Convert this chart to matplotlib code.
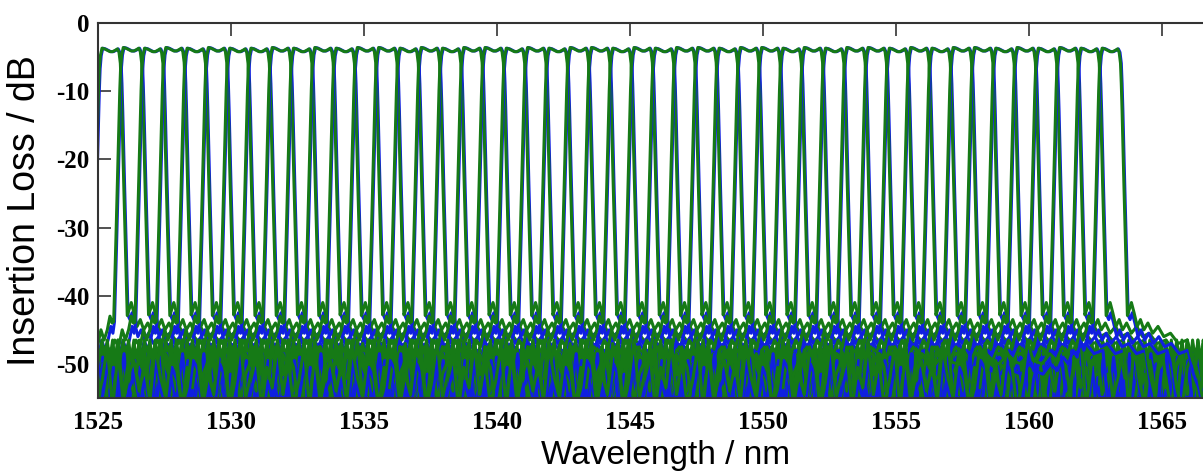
import numpy as np
import matplotlib.pyplot as plt

plt.rcParams['axes.unicode_minus'] = False

# channel centre wavelengths (nm)
centers = [1525.45, 1526.25, 1527.05, 1527.85, 1528.65, 1529.45, 1530.25, 1531.05,
           1531.85, 1532.65, 1533.45, 1534.25, 1535.05, 1535.85, 1536.65, 1537.45,
           1538.25, 1539.05, 1539.85, 1540.65, 1541.45, 1542.25, 1543.05, 1543.85,
           1544.65, 1545.45, 1546.25, 1547.05, 1547.85, 1548.65, 1549.45, 1550.25,
           1551.05, 1551.85, 1552.65, 1553.45, 1554.25, 1555.05, 1555.85, 1556.65,
           1557.45, 1558.25, 1559.05, 1559.85, 1560.65, 1561.45, 1562.25, 1563.05]
# peak insertion loss per channel (dB)
peak_loss = [-3.9, -3.8, -3.9, -3.8, -3.9, -3.8, -3.9, -3.9, -3.8, -3.9, -3.8, -3.9,
             -3.8, -3.8, -3.9, -3.8, -3.9, -3.8, -3.8, -3.9, -3.8, -3.9, -3.8, -3.8,
             -3.9, -3.8, -3.9, -3.8, -3.8, -3.9, -3.8, -3.8, -3.9, -3.8, -3.9, -3.8,
             -3.8, -3.9, -3.8, -3.9, -3.8, -3.8, -3.9, -3.8, -3.9, -3.8, -3.9, -3.9]

# passband shape: offset from centre (nm) and loss relative to the peak (dB)
pb_offset = [-0.66, -0.61, -0.57, -0.53, -0.49, -0.46, -0.43, -0.40, -0.36, -0.30,
             -0.20, -0.10, 0.00, 0.10, 0.20, 0.28, 0.34, 0.39, 0.42, 0.45, 0.48,
             0.52, 0.56, 0.60, 0.65]
pb_rel = [-40, -33, -27, -21, -15, -10, -6, -2.8, -0.9, 0.2,
          0.1, -0.1, -0.3, -0.3, -0.1, 0.1, -0.4, -2.0, -5, -9, -14,
          -20, -26, -32, -39]

# side lobes next to each channel: distance from centre (nm) and level (dB)
side_dist = [0.72, 0.80, 0.90, 1.02, 1.14, 1.27, 1.42, 1.60, 1.80, 2.02, 2.27, 2.56, 2.90]
side_right = [-42.0, -41.0, -42.5, -44.5, -43.5, -45.0, -44.0, -45.5, -44.5, -46.0, -45.5, -47.0, -46.5]
side_left = [-44.0, -43.0, -45.0, -46.5, -45.0, -47.5, -46.5, -48.5, -47.5, -49.5, -48.5, -50.0, -49.5]

# crosstalk floor ripple (dB around the floor level)
ripple = [-1.0, -5.0, 2.0, -6.0, 3.0, -2.0, -5.5, 1.0, -4.0, 3.5, -3.0, 0.0, -6.0,
          2.0, -1.0, -4.5, 4.0, -2.0, -6.0, 0.5, 2.5, -4.0, -1.0, -5.5, 1.5, 3.0,
          -3.0, -6.0, 0.0, 2.0, -4.5, -1.5, 3.0, -5.0, 0.5, -3.5, 1.0]

floor_green = -50.5
floor_blue = -52.5
floor_step = 0.2
blue_shift = 0.03
blue_drop = 1.5

x_ticks = [1525, 1530, 1535, 1540, 1545, 1550, 1555, 1560, 1565]
y_ticks = [0, -10, -20, -30, -40, -50]


def channel_trace(k, floor, drop, shift, phase):
    c = centers[k] + shift
    p = peak_loss[k]
    n = len(ripple)
    n_r = int((1571 - c - side_dist[-1]) / floor_step) + 1
    n_l = int((c - side_dist[-1] - 1523) / floor_step) + 1
    xr = c + side_dist[-1] + floor_step * np.arange(1, n_r + 1)
    yr = np.array([floor + ripple[(j + phase) % n] for j in range(n_r)])
    xl = c - side_dist[-1] - floor_step * np.arange(1, n_l + 1)
    yl = np.array([floor + ripple[(j + phase + 17) % n] for j in range(n_l)])
    x = np.concatenate([xl[::-1], c - np.array(side_dist[::-1]),
                        c + np.array(pb_offset), c + np.array(side_dist), xr])
    y = np.concatenate([yl[::-1], np.array(side_left[::-1]) - drop,
                        p + np.array(pb_rel), np.array(side_right) - drop, yr])
    return x, y


fig = plt.figure(figsize=(12.03, 4.73), dpi=100)
ax = fig.add_axes([98 / 1203, 75 / 473, 1197 / 1203, 375 / 473])

# both measurements drawn channel by channel, green over blue
for k in range(len(centers)):
    x, y = channel_trace(k, floor_blue, blue_drop, blue_shift, 7 * k + 3)
    ax.plot(x, y, color='#1020e0', lw=2.2)
    x, y = channel_trace(k, floor_green, 0.0, 0.0, 11 * k)
    ax.plot(x, y, color='#167a16', lw=2.2)

ax.set_xlim(1525, 1570)
ax.set_ylim(-55, 0)
ax.set_xticks(x_ticks)
ax.set_xticklabels([str(v) for v in x_ticks], fontfamily='Liberation Serif',
                   fontweight='bold', fontsize=18)
ax.set_yticks(y_ticks)
ax.set_yticklabels([str(v) for v in y_ticks], fontfamily='Liberation Serif',
                   fontweight='bold', fontsize=18)
ax.tick_params(axis='x', direction='in', top=True, length=9, width=1.2,
               color='#333333', pad=9)
ax.tick_params(axis='y', direction='in', length=9, width=1.2, color='#333333', pad=6)
for s in ['top', 'left', 'bottom']:
    ax.spines[s].set_color('#333333')
    ax.spines[s].set_linewidth(1.5)

ax.set_xlabel('Wavelength / nm', fontfamily='Liberation Sans', fontsize=24)
ax.xaxis.set_label_coords(0.4745, -0.113)
ax.set_ylabel('Insertion Loss / dB', fontfamily='Liberation Sans', fontsize=27)
ax.yaxis.set_label_coords(-0.061, 0.5)
ax.yaxis.label.set_va('center')

fig.savefig('out.png', dpi=100)
